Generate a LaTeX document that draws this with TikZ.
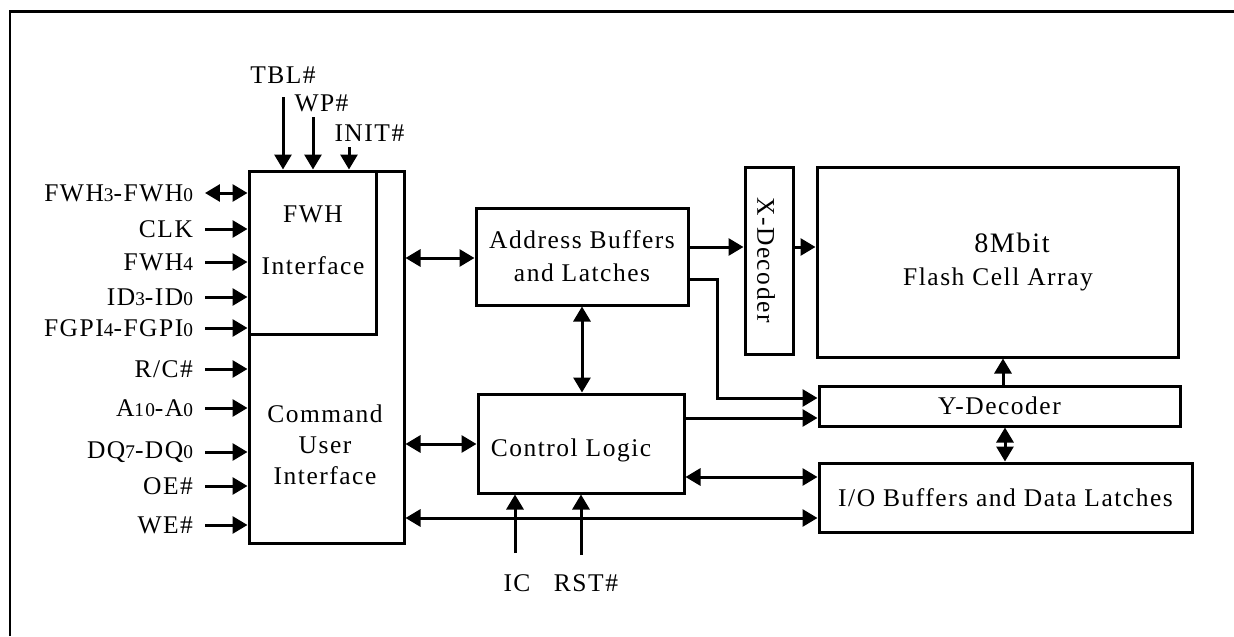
\documentclass[tikz,border=0pt]{standalone}
\usepackage{fontspec}
\setmainfont{Liberation Serif}[LetterSpace=6]
\usetikzlibrary{arrows.meta,positioning}
\newlength\upx
\setlength\upx{0.02cm}
\newcommand\blkfont{\fontsize{14.5}{17.5}\selectfont}
\newcommand\bigfont{\fontsize{16}{19}\selectfont}
\newcommand\sd[1]{{\fontsize{11}{13}\selectfont #1}}

\begin{document}
\begin{tikzpicture}[x=0.02cm,y=-0.02cm,>={Triangle[length=0.3cm,width=0.34cm]},line width=0.06cm,
  blk/.style={draw,line width=0.06cm,align=center,font=\blkfont},
  txt/.style={inner sep=0pt,align=center,font=\blkfont},
  sig/.style={anchor=east,inner xsep=0.24cm,inner ysep=0pt,outer sep=0pt,font=\blkfont}]
\useasboundingbox (0,0) rectangle (1234,636);
% frame
\draw (10,636) -- (10,11) -- (1234,11);
% blocks
\node[blk,minimum width=155\upx,minimum height=372\upx] (cui) at (326.5,357) {};
\node[blk,minimum width=127\upx,minimum height=163\upx] (fwh) at (312.5,252.5) {};
\node[txt] (fwh-t) at (313,240) {FWH\\[12pt]Interface};
\node[txt] (cui-t) at (325,445) {Command\\User\\Interface};
\node[blk,minimum width=212\upx,minimum height=97\upx] (addr) at (582,256.5) {Address Buffers\\[1.2pt]and Latches};
\node[blk,minimum width=206\upx,minimum height=99\upx] (ctrl) at (581,443.5) {};
\node[txt] (ctrl-t) at (571,450) {Control Logic};
\node[blk,minimum width=48\upx,minimum height=187\upx] (xdec) at (769,260.5) {};
\node[txt,rotate=-90] (xdec-t) at (766,260) {X-Decoder};
\node[blk,minimum width=361\upx,minimum height=190\upx] (flash) at (997.5,262) {};
\node[txt,font=\bigfont] (mbit) at (1012,243) {8Mbit};
\node[txt] (fca) at (998,279) {Flash Cell Array};
\node[blk,minimum width=361\upx,minimum height=40\upx] (ydec) at (999.5,406) {Y-Decoder};
\node[blk,minimum width=373\upx,minimum height=69\upx] (io) at (1005.5,497.5) {I/O Buffers and Data Latches};
% left signals
\node[sig] (fwhio) at (205,193) {FWH\sd{3}-FWH\sd{0}};
\node[sig] (clk) at (205,229) {CLK};
\node[sig] (fwhf) at (205,262) {FWH\sd{4}};
\node[sig] (id) at (205,297) {ID\sd{3}-ID\sd{0}\hspace{0.2cm}};
\node[sig] (fgpi) at (205,328) {FGPI\sd{4}-FGPI\sd{0}};
\node[sig] (rc) at (205,369) {R/C\#};
\node[sig] (addrin) at (205,408) {A\sd{10}-A\sd{0}};
\node[sig] (dq) at (205,452) {DQ\sd{7}-DQ\sd{0}};
\node[sig] (oe) at (205,486) {OE\#};
\node[sig] (we) at (205,525) {WE\#};
\draw[<->] (fwhio.east) -- (fwhio.east -| cui.west);
\draw[->] (clk.east) -- (clk.east -| cui.west);
\draw[->] (fwhf.east) -- (fwhf.east -| cui.west);
\draw[->] (id.east) -- (id.east -| cui.west);
\draw[->] (fgpi.east) -- (fgpi.east -| cui.west);
\draw[->] (rc.east) -- (rc.east -| cui.west);
\draw[->] (addrin.east) -- (addrin.east -| cui.west);
\draw[->] (dq.east) -- (dq.east -| cui.west);
\draw[->] (oe.east) -- (oe.east -| cui.west);
\draw[->] (we.east) -- (we.east -| cui.west);
% top signals
\node[txt] (tbl) at (283,75) {TBL\#};
\node[txt,anchor=west] (wp) at (293,103) {WP\#};
\node[txt,anchor=west] (init) at (333,133) {INIT\#};
\coordinate (tbl-s) at (283,97);
\coordinate (wp-s) at (313,117);
\coordinate (init-s) at (349,147);
\draw[->] (tbl-s) -- (tbl-s |- fwh.north);
\draw[->] (wp-s) -- (wp-s |- fwh.north);
\draw[->] (init-s) -- (init-s |- fwh.north);
% bottom signals
\node[txt] (ic) at (517,583) {IC};
\node[txt] (rst) at (586,583) {RST\#};
\coordinate (ic-s) at (515,553);
\coordinate (rst-s) at (581,555);
\draw[->] (ic-s) -- (ic-s |- ctrl.south);
\draw[->] (rst-s) -- (rst-s |- ctrl.south);
% internal buses
\draw[<->] (cui.east |- 0,258) -- (addr.west |- 0,258);
\draw[<->] (cui.east |- 0,444) -- (ctrl.west |- 0,444);
\draw[<->] (addr.south) -- (addr.south |- ctrl.north);
\draw[->] (addr.east |- 0,247) -- (xdec.west |- 0,247);
\draw[->] (xdec.east |- 0,247) -- (flash.west |- 0,247);
\draw[->] (addr.east |- 0,279) -- (717,279) |- (ydec.west |- 0,398);
\draw[->] (ctrl.east |- 0,418) -- (ydec.west |- 0,418);
\draw[->] (ydec.north -| 1003,0) -- (flash.south -| 1003,0);
\draw[<->] (ydec.south -| 1005,0) -- (io.north -| 1005,0);
\draw[<->] (ctrl.east |- 0,477) -- (io.west |- 0,477);
\draw[<->] (cui.east |- 0,518) -- (io.west |- 0,518);
\end{tikzpicture}
\end{document}
